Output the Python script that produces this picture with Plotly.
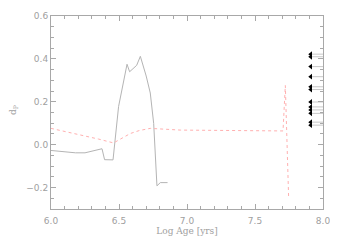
import plotly.graph_objects as go

# Solid gray track
age_solid = [6.0, 6.18, 6.25, 6.375, 6.394, 6.456, 6.497, 6.559, 6.578, 6.63, 6.657, 6.70, 6.73, 6.755, 6.779, 6.804, 6.857]
dp_solid = [-0.027, -0.038, -0.038, -0.019, -0.070, -0.071, 0.178, 0.375, 0.340, 0.370, 0.412, 0.320, 0.241, 0.099, -0.192, -0.177, -0.177]

# Dashed pink track
age_dash = [6.0, 6.1, 6.215, 6.35, 6.46, 6.52, 6.583, 6.65, 6.73, 6.95, 7.2, 7.45, 7.706, 7.723, 7.747]
dp_dash = [0.076, 0.062, 0.044, 0.026, 0.008, 0.028, 0.052, 0.066, 0.076, 0.068, 0.066, 0.065, 0.064, 0.276, -0.240]

# Upper-limit arrows on the right
arrow_dp = [0.422, 0.410, 0.364, 0.317, 0.270, 0.257, 0.199, 0.176, 0.162, 0.146, 0.105, 0.091]
arrow_age_tip = 7.90
arrow_age_end = 8.0

fig = go.Figure()

fig.add_trace(go.Scatter(x=age_solid, y=dp_solid, mode="lines",
                         line=dict(color="#b4b4b4", width=1)))
fig.add_trace(go.Scatter(x=age_dash, y=dp_dash, mode="lines",
                         line=dict(color="#ffb0b0", width=1, dash="3px,3px")))

lx, ly = [], []
for v in arrow_dp:
    lx += [arrow_age_tip, arrow_age_end, None]
    ly += [v, v, None]
fig.add_trace(go.Scatter(x=lx, y=ly, mode="lines",
                         line=dict(color="#c8c8c8", width=1)))
fig.add_trace(go.Scatter(x=[arrow_age_tip + 0.01] * len(arrow_dp), y=arrow_dp, mode="markers",
                         marker=dict(symbol="triangle-left", size=5, color="black")))

axcol = "#a8a8a8"
common = dict(showgrid=False, zeroline=False, showline=True, linecolor=axcol, linewidth=1,
              mirror="allticks", ticks="inside", tickcolor=axcol, ticklen=5, automargin=False,
              tickfont=dict(family="DejaVu Sans", size=9, color="#a0a0a0"))

fig.update_xaxes(range=[6.0, 8.0], tickvals=[6.0, 6.5, 7.0, 7.5, 8.0],
                 ticktext=["6.0", "6.5", "7.0", "7.5", "8.0"],
                 minor=dict(dtick=0.1, ticklen=3, ticks="inside", tickcolor=axcol),
                 ticklabelstandoff=3,
                 title=dict(text="Log Age [yrs]", font=dict(family="DejaVu Serif", size=9, color="#a0a0a0"),
                            standoff=1),
                 **common)
fig.update_yaxes(range=[-0.3, 0.6], tickvals=[-0.2, 0.0, 0.2, 0.4, 0.6],
                 ticktext=["\u22120.2", "0.0", "0.2", "0.4", "0.6"],
                 minor=dict(dtick=0.05, ticklen=3, ticks="inside", tickcolor=axcol),
                 **common)

fig.add_annotation(text="d<sub>P</sub>", xref="paper", yref="paper", x=-0.136, y=0.513,
                   xanchor="center", yanchor="middle",
                   textangle=-90, showarrow=False,
                   font=dict(family="DejaVu Serif", size=9, color="#a0a0a0"))

# the page body adds an 8px offset, so the figure is sized to land on the reference box
fig.update_layout(width=330, height=233, showlegend=False,
                  margin=dict(l=43, r=15, t=8, b=32),
                  paper_bgcolor="white", plot_bgcolor="white")

fig.write_html("out.html")
